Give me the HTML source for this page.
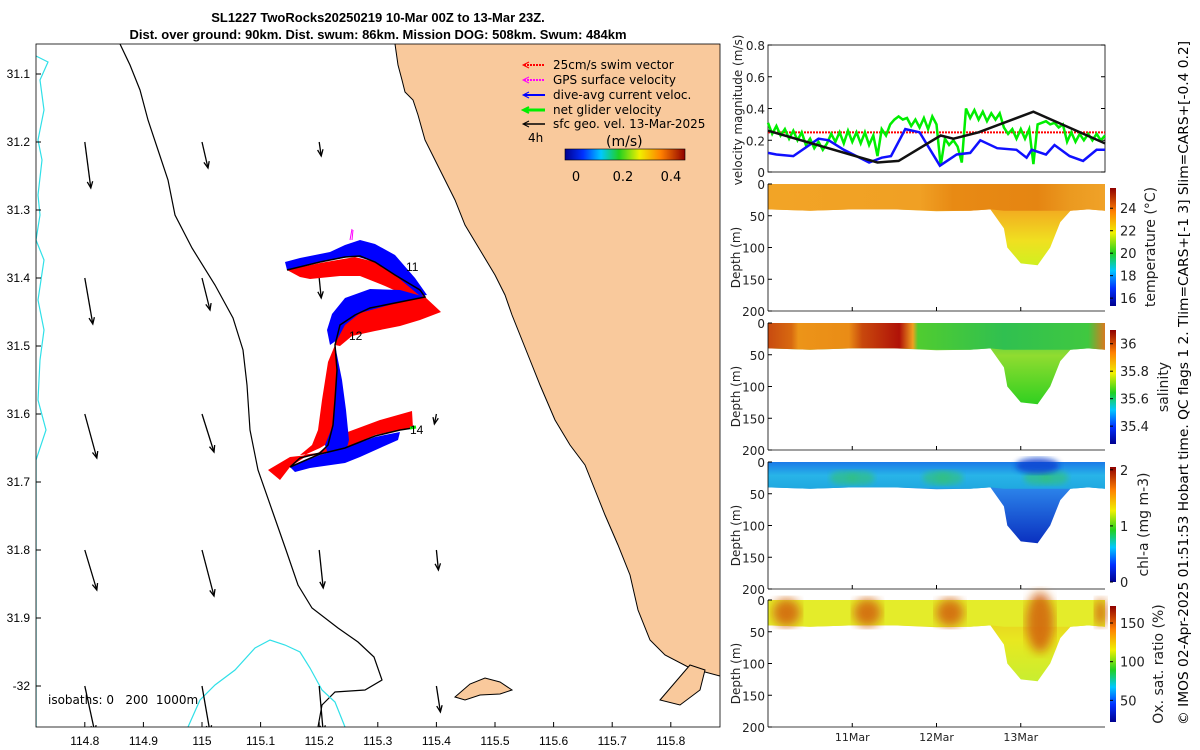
<!DOCTYPE html>
<html><head><meta charset="utf-8"><style>
html,body{margin:0;padding:0;background:#fff;}
svg{display:block;font-family:"Liberation Sans","DejaVu Sans",sans-serif;}
.dv{font-family:"DejaVu Sans","Liberation Sans",sans-serif;}
</style></head><body>
<svg id="fig" width="1200" height="750" viewBox="0 0 1200 750" xmlns="http://www.w3.org/2000/svg">
<defs>
<linearGradient id="cbMap" x1="0" x2="1" y1="0" y2="0">
<stop offset="0" stop-color="#00008f"/><stop offset="0.15" stop-color="#0030ff"/><stop offset="0.3" stop-color="#00c8ff"/><stop offset="0.45" stop-color="#20d020"/><stop offset="0.62" stop-color="#f0f000"/><stop offset="0.8" stop-color="#ff8000"/><stop offset="1" stop-color="#8f0000"/></linearGradient>
<linearGradient id="cbV" x1="0" x2="0" y1="1" y2="0">
<stop offset="0" stop-color="#00008f"/><stop offset="0.15" stop-color="#0030ff"/><stop offset="0.3" stop-color="#00c8ff"/><stop offset="0.45" stop-color="#20d020"/><stop offset="0.62" stop-color="#f0f000"/><stop offset="0.8" stop-color="#ff8000"/><stop offset="1" stop-color="#8f0000"/></linearGradient>
<linearGradient id="tempG" x1="0" x2="1"><stop offset="0" stop-color="#f2a426"/><stop offset="0.45" stop-color="#f0a024"/><stop offset="0.55" stop-color="#e88a14"/><stop offset="0.8" stop-color="#e58512"/><stop offset="0.9" stop-color="#eb9a20"/><stop offset="1" stop-color="#f0a228"/></linearGradient>
<linearGradient id="tempV" x1="0" x2="0" y1="0" y2="1"><stop offset="0" stop-color="#e88a14"/><stop offset="0.35" stop-color="#f2b020"/><stop offset="0.7" stop-color="#f0e020"/><stop offset="1" stop-color="#d0f020"/></linearGradient>
<linearGradient id="salG" x1="0" x2="1"><stop offset="0" stop-color="#c84a10"/><stop offset="0.07" stop-color="#d86a10"/><stop offset="0.09" stop-color="#ec9418"/><stop offset="0.24" stop-color="#ea8c16"/><stop offset="0.28" stop-color="#c8480c"/><stop offset="0.39" stop-color="#b01208"/><stop offset="0.43" stop-color="#f0a020"/><stop offset="0.445" stop-color="#50cc30"/><stop offset="0.7" stop-color="#30c050"/><stop offset="0.95" stop-color="#40c840"/><stop offset="1" stop-color="#d87a20"/></linearGradient>
<linearGradient id="salV" x1="0" x2="0" y1="0" y2="1"><stop offset="0" stop-color="#30c050"/><stop offset="0.4" stop-color="#90dc30"/><stop offset="1" stop-color="#30d020"/></linearGradient>
<linearGradient id="chlG" x1="0" x2="0" y1="0" y2="1"><stop offset="0" stop-color="#1a7ae8"/><stop offset="0.5" stop-color="#28b4e8"/><stop offset="1" stop-color="#20a8e0"/></linearGradient>
<linearGradient id="chlV" x1="0" x2="0" y1="0" y2="1"><stop offset="0" stop-color="#28b0d0"/><stop offset="0.35" stop-color="#2a80e8"/><stop offset="1" stop-color="#0a30c0"/></linearGradient>
<linearGradient id="oxV" x1="0" x2="0" y1="0" y2="1"><stop offset="0" stop-color="#e8c020"/><stop offset="0.5" stop-color="#e8e820"/><stop offset="1" stop-color="#c8ee30"/></linearGradient>
<filter id="blur3"><feGaussianBlur stdDeviation="3"/></filter>
<filter id="blur5"><feGaussianBlur stdDeviation="5"/></filter>
<clipPath id="mapClip"><rect x="36" y="44" width="684" height="683"/></clipPath>
</defs>

<text x="378" y="22" text-anchor="middle" font-size="13" font-weight="bold">SL1227 TwoRocks20250219 10-Mar 00Z to 13-Mar 23Z.</text>
<text x="378" y="39" text-anchor="middle" font-size="13" font-weight="bold">Dist. over ground: 90km. Dist. swum: 86km. Mission DOG: 508km. Swum: 484km</text>

<g id="map" clip-path="url(#mapClip)">
<rect x="36" y="44" width="684" height="683" fill="#fff"/>
<path fill="#f9c99c" d="M395,44 L398,65 L402,80 L405,92 L413,100 L418,115 L425,140 L440,170 L455,200 L465,225 L480,250 L495,275 L505,295 L512,315 L520,335 L530,360 L540,385 L555,420 L570,445 L585,465 L595,490 L605,515 L618,545 L630,575 L638,610 L650,640 L665,655 L690,668 L720,676 L720,44 Z"/>
<path fill="none" stroke="#000" stroke-width="1" d="M395,44 L398,65 L402,80 L405,92 L413,100 L418,115 L425,140 L440,170 L455,200 L465,225 L480,250 L495,275 L505,295 L512,315 L520,335 L530,360 L540,385 L555,420 L570,445 L585,465 L595,490 L605,515 L618,545 L630,575 L638,610 L650,640 L665,655 L690,668 L720,676"/>
<path fill="#f9c99c" stroke="#000" stroke-width="1" d="M455,697 L470,684 L485,678 L500,682 L512,690 L500,694 L480,695 L465,700 Z M660,700 L690,665 L705,670 L700,690 L680,705 Z"/>
<path fill="none" stroke="#000" stroke-width="1.2" d="M120,44 L130,65 L140,90 L148,120 L158,150 L168,180 L175,215 L192,248 L215,285 L233,318 L243,350 L247,385 L250,430 L258,470 L272,510 L286,550 L298,585 L312,608 L338,628 L358,642 L374,657 L382,680 L365,690 L335,692 L322,705 L318,727"/>
<path fill="none" stroke="#30e0e8" stroke-width="1.2" d="M36,56 L48,62 L40,80 L44,110 L38,140 L42,160 L38,195 L40,215 L36,240 L44,260 L38,300 L44,330 L40,360 L38,400 L46,430 L36,460 L36,727 M188,727 L200,700 L215,685 L235,670 L255,648 L270,640 L285,645 L300,652 L310,668 L322,690 L335,702 L345,727"/>
<g id="geoArrows"></g>
<g id="track">
<path fill="#f00" d="M287,270 L320,263 L355,257 L375,262 L395,275 L425,297 L440,311 L430,305 L405,295 L385,286 L360,276 L340,276 L310,279 L300,277 Z M425,297 L441,312 L420,320 L400,326 L375,331 L352,336 L340,346 L335,345 L340,325 L355,315 L370,308 L400,302 Z M335,345 L328,362 L322,400 L318,430 L312,445 L300,455 L318,453 L328,445 L333,425 L335,400 L337,370 Z M300,457 L320,448 L345,433 L380,420 L412,411 L413,428 L400,430 L375,435 L345,448 L320,455 Z M268,470 L290,457 L308,455 L290,467 L280,480 Z"/>
<path fill="#00f" d="M285,262 L300,258 L330,252 L345,245 L360,240 L375,244 L395,255 L415,278 L427,295 L420,296 L395,275 L375,262 L355,256 L320,262 L287,270 Z M425,297 L400,290 L370,289 L345,298 L332,314 L327,330 L330,345 L337,340 L345,325 L360,313 L400,302 Z M335,345 L342,380 L346,410 L349,440 L345,455 L330,460 L325,445 L333,425 L335,400 L337,370 Z M290,467 L320,455 L345,448 L375,437 L400,432 L398,440 L380,448 L360,457 L345,463 L310,468 L295,472 Z"/>
<path fill="none" stroke="#000" stroke-width="1.5" d="M287,270 L320,262 L345,257 L360,256 L375,262 L395,275 L420,290 L425,297 L400,302 L370,308 L355,315 L340,325 L335,345 L337,370 L335,400 L333,425 L328,445 L320,453 L300,458 L290,467 L320,454 L345,448 L375,436 L400,430 L413,428"/>
<path stroke="#f0f" stroke-width="1" d="M350,240 L352,229 M352,240 L353,230"/>
<path stroke="#0e0" stroke-width="3" d="M410,428 L416,427"/>
<text x="406" y="271" font-size="12">11</text>
<text x="349" y="340" font-size="12">12</text>
<text x="410" y="434" font-size="12">14</text>
</g>
<text x="48" y="704" font-size="12" class="dv">isobaths: 0&#160;&#160;&#160;200&#160;&#160;1000m</text>
</g>
<rect x="36" y="44" width="684" height="683" fill="none" stroke="#000" stroke-width="0.8"/>
<g id="mapTicks"></g>

<g font-size="12" class="dv">
<g><path d="M524,65 L545,65" stroke="#f00" stroke-width="2" stroke-dasharray="2,1"/><path d="M529,62 L523,65 L529,68" fill="none" stroke="#f00"/><text x="553" y="69">25cm/s swim vector</text></g>
<g><path d="M524,80 L545,80" stroke="#f0f" stroke-width="2" stroke-dasharray="2,1"/><path d="M529,77 L523,80 L529,83" fill="none" stroke="#f0f"/><text x="553" y="84">GPS surface velocity</text></g>
<g><path d="M524,95 L545,95" stroke="#00f" stroke-width="2"/><path d="M529,92 L523,95 L529,98" fill="none" stroke="#00f"/><text x="553" y="99">dive-avg current veloc.</text></g>
<g><path d="M524,110 L545,110" stroke="#0e0" stroke-width="3"/><path d="M529,107 L523,110 L529,113" fill="none" stroke="#0e0" stroke-width="2"/><text x="553" y="114">net glider velocity</text></g>
<g><path d="M524,124 L545,124" stroke="#000" stroke-width="1.5"/><path d="M529,121 L523,124 L529,127" fill="none" stroke="#000"/><text x="553" y="128">sfc geo. vel. 13-Mar-2025</text></g>
<text x="528" y="142" font-size="12">4h</text>
<text x="606" y="146" font-size="14">(m/s)</text>
<rect x="565" y="149" width="120" height="11" fill="url(#cbMap)" stroke="#000" stroke-width="0.6"/>
<g font-size="13" text-anchor="middle"><text x="576" y="181">0</text><text x="623" y="181">0.2</text><text x="671" y="181">0.4</text></g>
</g>

<g id="velPanel" class="dv"></g>
<g id="sections" class="dv"></g>

<text transform="translate(1188,383) rotate(-90)" text-anchor="middle" font-size="13" class="dv" textLength="684" lengthAdjust="spacingAndGlyphs">© IMOS 02-Apr-2025 01:51:53 Hobart time. QC flags 1  2. Tlim=CARS+[-1 3] Slim=CARS+[-0.4 0.2]</text>
</svg>
<script>
const velTicks = [0, 0.2, 0.4, 0.6, 0.8];
const dateLabels = ["11Mar", "12Mar", "13Mar"];
const dateDays = [1, 2, 3];
const swimSpeed = 0.25;
const geoT = [0, 1.3, 1.55, 2.05, 2.2, 2.5, 3.15, 4.0];
const geoV = [0.26, 0.06, 0.07, 0.23, 0.21, 0.25, 0.38, 0.18];
const blueT = [0, 0.1, 0.3, 0.6, 0.72, 0.9, 1.2, 1.35, 1.46, 1.63, 1.8, 2.04, 2.24, 2.4, 2.52, 2.72, 2.95, 3.07, 3.13, 3.3, 3.4, 3.58, 3.74, 3.9, 4.0];
const blueV = [0.12, 0.11, 0.10, 0.21, 0.20, 0.14, 0.06, 0.09, 0.10, 0.27, 0.25, 0.04, 0.11, 0.12, 0.20, 0.15, 0.14, 0.09, 0.14, 0.11, 0.17, 0.10, 0.07, 0.14, 0.14];
const greenT = [0,0.05,0.1,0.15,0.2,0.25,0.3,0.35,0.4,0.45,0.5,0.55,0.6,0.65,0.7,0.75,0.8,0.85,0.9,0.95,1.0,1.05,1.1,1.15,1.2,1.25,1.3,1.35,1.4,1.45,1.5,1.55,1.6,1.65,1.7,1.75,1.8,1.85,1.9,1.95,2.0,2.05,2.1,2.15,2.2,2.25,2.3,2.35,2.4,2.45,2.5,2.55,2.6,2.65,2.7,2.75,2.8,2.85,2.9,2.95,3.0,3.05,3.1,3.15,3.2,3.25,3.3,3.35,3.4,3.45,3.5,3.55,3.6,3.65,3.7,3.75,3.8,3.85,3.9,3.95,4.0];
const greenV = [0.31,0.24,0.29,0.23,0.27,0.21,0.26,0.20,0.25,0.17,0.21,0.15,0.19,0.14,0.18,0.24,0.19,0.25,0.18,0.26,0.19,0.25,0.18,0.25,0.17,0.23,0.10,0.27,0.23,0.30,0.33,0.35,0.33,0.34,0.29,0.33,0.28,0.34,0.27,0.35,0.30,0.04,0.21,0.17,0.20,0.16,0.06,0.40,0.34,0.39,0.33,0.38,0.32,0.37,0.33,0.37,0.28,0.24,0.27,0.21,0.27,0.21,0.27,0.05,0.30,0.31,0.32,0.30,0.31,0.28,0.30,0.19,0.25,0.19,0.24,0.20,0.24,0.20,0.24,0.20,0.23];
const sectT = [0, 0.5, 1.0, 1.5, 2.0, 2.4, 2.64, 2.8, 2.84, 3.0, 3.2, 3.35, 3.47, 3.59, 3.8, 4.0];
const sectBottom = [40, 42, 40, 40, 43, 42, 40, 70, 100, 125, 128, 100, 60, 42, 40, 42];
const tempTicks = [16, 18, 20, 22, 24];
const salTicks = [35.4, 35.6, 35.8, 36];
const chlTicks = [0, 1, 2];
const oxTicks = [50, 100, 150];
const oxBlobT = [0.22, 1.18, 2.16, 3.23, 3.95];
const chlPatchT = [0.9, 1.1, 2.0, 2.15, 3.2, 3.4];
const depthTicks = [0, 50, 100, 150, 200];
const geoLon = [114.8, 115.0, 115.2, 115.4];
const geoLat = [31.2, 31.4, 31.6, 31.8, 32.0];
const geoU = [[0.03,0.03,0.01,0],[0.04,0.04,0.01,0],[0.06,0.06,0,-0.01],[0.06,0.06,0.02,0.01],[0.05,0.04,0.02,0.02]];
const geoVv = [[-0.23,-0.13,-0.07,0],[-0.23,-0.16,-0.1,0],[-0.22,-0.19,0,-0.05],[-0.2,-0.23,-0.19,-0.1],[-0.23,-0.23,-0.23,-0.13]];
const lonTicks = [114.8,114.9,115,115.1,115.2,115.3,115.4,115.5,115.6,115.7,115.8];
const latTicks = [31.1,31.2,31.3,31.4,31.5,31.6,31.7,31.8,31.9,32.0];
const latLabels = ["31.1","31.2","31.3","31.4","31.5","31.6","31.7","31.8","31.9","-32"];

const NS = "http://www.w3.org/2000/svg";
function mk(parent, tag, attrs, txt){const e=document.createElementNS(NS,tag);for(const k in attrs)e.setAttribute(k,attrs[k]);if(txt!==undefined)e.textContent=txt;parent.appendChild(e);return e;}
const lonX = l => 202 + (l - 115) * 586;
const latY = l => 74 + (l - 31.1) * 680;
const mt = document.getElementById('mapTicks');
lonTicks.forEach(l=>{const x=lonX(l);
  mk(mt,'line',{x1:x,x2:x,y1:727,y2:722,stroke:'#000'});
  const t=mk(mt,'text',{x:x,y:745,'text-anchor':'middle','font-size':12},String(l));
  
  });
latTicks.forEach((l,i)=>{const y=latY(l);
  mk(mt,'line',{x1:36,x2:41,y1:y,y2:y,stroke:'#000'});
  const t=mk(mt,'text',{x:30,y:y+4,'text-anchor':'end','font-size':12},latLabels[i]);
  
  });
const ga=document.getElementById('geoArrows');
const aScale=200;
geoLat.forEach((la,i)=>geoLon.forEach((lo,j)=>{
  const u=geoU[i][j], v=geoVv[i][j]; if(u===0&&v===0) return;
  const x0=lonX(lo), y0=latY(la), x1=x0+u*aScale, y1=y0-v*aScale;
  const g=mk(ga,'g',{});
  
  
  mk(g,'line',{x1:x0,y1:y0,x2:x1,y2:y1,stroke:'#000','stroke-width':1.3});
  const a=Math.atan2(y1-y0,x1-x0), h=7;
  mk(g,'path',{d:`M${x1-h*Math.cos(a-0.4)},${y1-h*Math.sin(a-0.4)} L${x1},${y1} L${x1-h*Math.cos(a+0.4)},${y1-h*Math.sin(a+0.4)}`,fill:'none',stroke:'#000','stroke-width':1.3});
}));
const VX0=768, VX1=1105, VY0=45, VY1=172;
const tx = t => VX0 + t*(VX1-VX0)/4;
const vy = v => VY1 - v*(VY1-VY0)/0.8;
const vp=document.getElementById('velPanel');
mk(vp,'rect',{x:VX0,y:VY0,width:VX1-VX0,height:VY1-VY0,fill:'#fff',stroke:'#000','stroke-width':0.8});
velTicks.forEach(v=>{mk(vp,'line',{x1:VX0,x2:VX0+4,y1:vy(v),y2:vy(v),stroke:'#000'});mk(vp,'line',{x1:VX1,x2:VX1-4,y1:vy(v),y2:vy(v),stroke:'#000'});
  const t=mk(vp,'text',{x:VX0-3,y:vy(v)+5,'text-anchor':'end','font-size':12,fill:'#222'},v===0?'0':String(v));
  
  });
const vt=mk(vp,'text',{transform:`translate(742,110) rotate(-90)`,'text-anchor':'middle','font-size':12,fill:'#222'},'velocity magnitude (m/s)');


function poly(T,V){return T.map((t,i)=>(i?'L':'M')+tx(t).toFixed(1)+','+vy(V[i]).toFixed(1)).join(' ');}
const sw=mk(vp,'line',{x1:tx(0),x2:tx(4),y1:vy(swimSpeed),y2:vy(swimSpeed),stroke:'#f00','stroke-width':2,'stroke-dasharray':'2,1'});


const gl=mk(vp,'path',{d:poly(greenT,greenV),fill:'none',stroke:'#00ee00','stroke-width':2.5});


const bl=mk(vp,'path',{d:poly(blueT,blueV),fill:'none',stroke:'#1010ff','stroke-width':2.5});


const kl=mk(vp,'path',{d:poly(geoT,geoV),fill:'none',stroke:'#111','stroke-width':2.5});


const sec=document.getElementById('sections');
const panels=[
 {y0:184,name:'temperature',fill:'url(#tempG)',v:'url(#tempV)',ticks:tempTicks,lo:15.3,hi:25.8,label:'temperature (°C)',cb:[188,306],lx:1155},
 {y0:323,name:'salinity',fill:'url(#salG)',v:'url(#salV)',ticks:salTicks,lo:35.27,hi:36.1,label:'salinity',cb:[330,444],lx:1168},
 {y0:462,name:'chlorophyll',fill:'url(#chlG)',v:'url(#chlV)',ticks:chlTicks,lo:0,hi:2.05,label:'chl-a (mg m-3)',cb:[467,582],lx:1148},
 {y0:600,name:'oxygen',fill:'#e4ec2a',v:'url(#oxV)',ticks:oxTicks,lo:22,hi:172,label:'Ox. sat. ratio (%)',cb:[606,722],lx:1163}];
const PH=127;
panels.forEach((p,pi)=>{
  const g=mk(sec,'g',{});
  
  
  const dy=d=>p.y0+d/200*PH;
  let dv='M'+tx(sectT[0])+','+dy(0);
  sectT.forEach((t,i)=>{dv+=' L'+tx(t).toFixed(1)+','+dy(sectBottom[i]).toFixed(1);});
  dv+=' L'+tx(4)+','+dy(0)+'Z';
  mk(g,'path',{d:dv,fill:p.v});
  let d='M'+tx(0)+','+dy(0)+' L'+tx(4)+','+dy(0);
  for(let i=sectT.length-1;i>=0;i--) d+=' L'+tx(sectT[i]).toFixed(1)+','+dy(Math.min(sectBottom[i],42)).toFixed(1);
  d+='Z';
  mk(g,'path',{d:d,fill:p.fill});
  if(p.name==='oxygen'){oxBlobT.forEach((t,k)=>{const e=mk(g,'ellipse',{cx:tx(t),cy:dy(k===3?35:20),rx:k===4?6:14,ry:k===3?30:14,fill:'#d2600c',opacity:0.85,filter:'url(#blur5)'});
    
    });}
  if(p.name==='chlorophyll'){chlPatchT.forEach(t=>{mk(g,'ellipse',{cx:tx(t),cy:dy(25),rx:14,ry:7,fill:'#30c080',opacity:0.7,filter:'url(#blur3)'});});
    mk(g,'ellipse',{cx:tx(3.2),cy:dy(6),rx:22,ry:8,fill:'#1040d0',opacity:0.8,filter:'url(#blur3)'});}
  mk(g,'line',{x1:VX0,x2:VX0,y1:p.y0,y2:p.y0+PH,stroke:'#000','stroke-width':0.8});
  mk(g,'line',{x1:VX0,x2:VX1,y1:p.y0+PH,y2:p.y0+PH,stroke:'#000','stroke-width':0.8});
  depthTicks.forEach(dd=>{mk(g,'line',{x1:VX0,x2:VX0+4,y1:dy(dd),y2:dy(dd),stroke:'#000'});
    const t=mk(g,'text',{x:VX0-3,y:dy(dd)+5,'text-anchor':'end','font-size':12,fill:'#222'},String(dd));
    
    });
  dateDays.forEach(dd=>mk(g,'line',{x1:tx(dd),x2:tx(dd),y1:p.y0+PH,y2:p.y0+PH-4,stroke:'#000'}));
  const yl=mk(g,'text',{transform:`translate(740,${p.y0+PH/2+10}) rotate(-90)`,'text-anchor':'middle','font-size':12,fill:'#222'},'Depth (m)');
  
  
  const [c0,c1]=p.cb;
  const cb=mk(g,'rect',{x:1110,y:c0,width:6,height:c1-c0,fill:'url(#cbV)'});
  
  
  const cy=v=>c1-(v-p.lo)/(p.hi-p.lo)*(c1-c0);
  p.ticks.forEach(v=>{mk(g,'line',{x1:1110,x2:1113,y1:cy(v),y2:cy(v),stroke:'#000'});
    const t=mk(g,'text',{x:1120,y:cy(v)+5,'font-size':13,fill:'#222'},String(v));
    
    });
  const cl=mk(g,'text',{transform:`translate(${p.lx},${(c0+c1)/2}) rotate(-90)`,'text-anchor':'middle','font-size':14,fill:'#222'},p.label);
  
  
});
dateLabels.forEach((s,i)=>{const t=mk(sec,'text',{x:tx(dateDays[i]),y:741,'text-anchor':'middle','font-size':11,fill:'#222'},s);
  
  });
</script>
</body></html>
